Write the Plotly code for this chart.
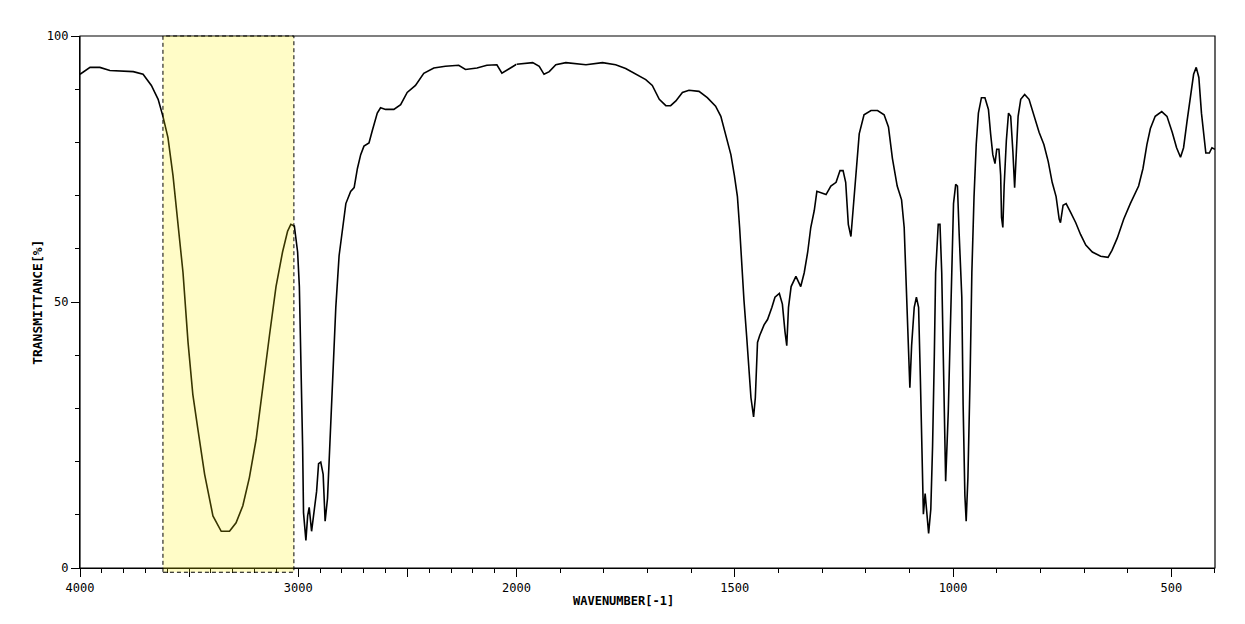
import numpy as np
import plotly.graph_objects as go

# IR spectrum (wavenumber in cm-1, transmittance in %)
WAVENUMBER = [
    4000, 3992, 3954, 3909, 3863, 3756, 3711, 3673, 3642, 3620, 3597, 3574, 3551, 3528, 3505,
    3483, 3460, 3429, 3391, 3353, 3315, 3285, 3254, 3224, 3193, 3163, 3132, 3102, 3072, 3049,
    3034, 3018, 3003, 2995, 2988, 2980, 2976, 2965, 2957, 2950, 2939, 2927, 2916, 2907, 2897,
    2886, 2877, 2866, 2855, 2843, 2828, 2813, 2798, 2782, 2760, 2744, 2729, 2714, 2699, 2676,
    2661, 2638, 2623, 2600, 2562, 2531, 2501, 2463, 2425, 2379, 2326, 2265, 2234, 2181, 2136,
    2090, 2067, 2037, 2000,
    1963, 1948, 1937, 1925, 1910, 1887, 1841, 1803, 1773, 1750, 1727, 1704, 1689, 1673, 1658,
    1647, 1635, 1620, 1605, 1582, 1563, 1544, 1532, 1521, 1509, 1501, 1494, 1489, 1484, 1479,
    1473, 1467, 1463, 1457, 1453, 1448, 1443, 1433, 1425, 1415, 1408, 1398, 1391, 1385, 1381,
    1377, 1371, 1360, 1349, 1341, 1333, 1326, 1318, 1312, 1299, 1291, 1280, 1268, 1259, 1252,
    1246, 1240, 1234, 1229, 1223, 1215, 1204, 1188, 1173, 1158, 1148, 1139, 1128, 1118, 1112,
    1107, 1103, 1099, 1095, 1089, 1084, 1079, 1075, 1072, 1068, 1064, 1060, 1056, 1051, 1047,
    1043, 1040, 1034, 1030, 1026, 1021, 1017, 1011, 1005, 999, 994, 990,
    986, 980, 977, 973, 970, 966, 961, 957, 952, 947, 942, 935, 927, 919, 914,
    909, 904, 900, 895, 891, 889, 886, 883, 878, 873, 868, 863, 859, 855, 851,
    845, 836, 826, 815, 803, 792, 782, 773, 764, 757, 754, 748, 741, 731, 719,
    708, 696, 681, 662, 645, 636, 624, 609, 594, 575, 565, 556, 548, 537, 522,
    510, 498, 488, 479, 472, 464, 456, 449, 443, 437, 431, 426, 421, 413, 407, 400,
]
TRANSMITTANCE = [
    92.8, 93.0, 94.1, 94.1, 93.5, 93.3, 92.8, 90.7, 88.1, 84.9, 80.9, 73.8, 64.6, 55.5, 42.4,
    32.6, 26.1, 17.6, 9.8, 6.9, 6.9, 8.5, 11.7, 17.0, 24.2, 33.3, 43.7, 52.9, 59.4, 63.3,
    64.6, 64.3, 59.4, 52.9, 41.1, 22.8, 10.4, 5.2, 9.8, 11.4, 6.9, 10.4, 14.4, 19.6, 19.9,
    17.6, 8.8, 13.1, 22.8, 35.9, 49.0, 58.7, 63.3, 68.5, 70.8, 71.5, 75.1, 77.7, 79.3, 79.9,
    82.2, 85.5, 86.5, 86.2, 86.2, 87.1, 89.4, 90.7, 93.0, 94.0, 94.3, 94.5, 93.7, 94.0, 94.5,
    94.6, 93.0, 93.7, 94.7,
    95.0, 94.3, 92.8, 93.3, 94.6, 95.0, 94.6, 95.0, 94.6, 93.9, 92.8, 91.8, 90.7, 88.1, 86.9,
    86.9, 87.8, 89.4, 89.8, 89.6, 88.4, 86.8, 84.9, 81.6, 77.7, 73.8, 69.8, 64.0, 56.8, 50.3,
    43.7, 36.6, 32.0, 28.4, 32.0, 42.4, 43.7, 45.7, 46.7, 49.0, 50.9, 51.6, 49.6, 44.4, 41.8,
    49.0, 52.9, 54.8, 52.9, 55.5, 59.4, 64.0, 67.2, 70.8, 70.5, 70.2, 71.8, 72.5, 74.7, 74.7,
    72.5, 64.6, 62.3, 67.2, 74.4, 81.6, 85.2, 86.0, 86.0, 85.2, 82.9, 77.0, 71.8, 69.2, 64.0,
    51.6, 43.7, 33.9, 41.8, 49.0, 50.9, 49.0, 35.9, 22.8, 10.1, 14.0, 9.8, 6.5, 11.1, 22.8,
    39.8, 55.5, 64.6, 64.6, 55.5, 35.9, 16.3, 29.4, 49.0, 68.5, 72.1, 71.8,
    62.7, 50.9, 30.7, 13.7, 8.8, 17.0, 35.9, 55.5, 69.8, 79.6, 85.5, 88.4, 88.4, 86.2, 81.6,
    77.7, 76.0, 78.7, 78.7, 73.8, 65.9, 64.0, 71.8, 80.3, 85.5, 84.9, 78.3, 71.5, 78.3, 84.9,
    88.1, 89.0, 88.1, 84.9, 81.9, 79.6, 76.4, 72.5, 69.8, 65.6, 64.9, 68.2, 68.5, 66.9, 64.9,
    62.7, 60.7, 59.4, 58.6, 58.4, 59.7, 62.0, 65.6, 68.5, 71.8, 75.1, 79.6, 82.6, 84.9, 85.8,
    84.9, 81.9, 79.0, 77.2, 79.0, 84.0, 88.9, 92.8, 94.1, 92.2, 85.5, 81.6, 78.0, 78.0, 79.0, 78.7,
]

HIGH_TICKS = [4000, 3500, 3000, 2500, 2000]
HIGH_LABELS = ["4000", "", "3000", "", "2000"]
LOW_TICKS = [1500, 1000, 500]
LOW_LABELS = ["1500", "1000", "500"]
Y_TICKS = [0, 50, 100]
Y_LABELS = ["0", "50", "100"]
BAND = [3620, 3020]  # highlighted O-H region

wn = np.array(WAVENUMBER)
tr = np.array(TRANSMITTANCE)
hi = wn >= 2000
lo = wn <= 2000

# 4000-2000 is drawn at half the scale of 2000-400
split = 1000 / 2600

FONT = "DejaVu Sans Mono"
line_style = dict(color="black", width=1.6)

fig = go.Figure()
fig.add_trace(go.Scatter(x=wn[hi], y=tr[hi], mode="lines", line=line_style,
                         xaxis="x", yaxis="y", showlegend=False))
fig.add_trace(go.Scatter(x=wn[lo], y=tr[lo], mode="lines", line=line_style,
                         xaxis="x2", yaxis="y", showlegend=False))

common_x = dict(showgrid=False, zeroline=False, showline=True, linecolor="black",
                linewidth=1.2, ticks="outside", ticklen=8, tickwidth=1, tickcolor="black",
                tickfont=dict(family=FONT, size=12, color="black"), anchor="y")

# the page body adds 8px, so margins are trimmed to keep the frame in place
fig.update_layout(
    width=1245, height=624,
    margin=dict(l=72, r=38, t=28, b=64),
    paper_bgcolor="white", plot_bgcolor="white",
    xaxis=dict(domain=[0, split], range=[4000, 2000], tickmode="array",
               tickvals=HIGH_TICKS, ticktext=HIGH_LABELS,
               minor=dict(tickmode="array",
                          tickvals=[w for w in range(3900, 2000, -100) if w % 500],
                          ticks="outside", ticklen=4, tickcolor="black"),
               **common_x),
    xaxis2=dict(domain=[split, 1], range=[2000, 400], tickmode="array",
                tickvals=LOW_TICKS, ticktext=LOW_LABELS,
                minor=dict(tickmode="array",
                           tickvals=[w for w in range(1900, 399, -100) if w % 500],
                           ticks="outside", ticklen=4, tickcolor="black"),
                **common_x),
    yaxis=dict(range=[0, 100], anchor="x", tickmode="array", tickvals=Y_TICKS,
               ticktext=Y_LABELS, showgrid=False, zeroline=False, showline=True,
               linecolor="black", linewidth=1.2, ticks="outside", ticklen=8,
               tickwidth=1, tickcolor="black",
               tickfont=dict(family=FONT, size=12, color="black"),
               minor=dict(tickmode="array", tickvals=[10, 20, 30, 40, 60, 70, 80, 90],
                          ticks="outside", ticklen=4, tickcolor="black")),
)

# frame around the plotting area
fig.add_shape(type="rect", xref="paper", yref="paper", x0=0, x1=1, y0=0, y1=1,
              line=dict(color="black", width=1.2), layer="above")

# highlighted band, drawn over the spectrum
fig.add_shape(type="rect", xref="x", yref="paper", x0=BAND[0], x1=BAND[1], y0=-0.008, y1=1,
              fillcolor="rgba(255,241,0,0.22)",
              line=dict(color="black", width=1, dash="4px,3px"), layer="above")

fig.add_annotation(text="WAVENUMBER[-1]", xref="paper", yref="paper", x=0.479, y=-0.062,
                   showarrow=False, xanchor="center", yanchor="middle",
                   font=dict(family=FONT, size=12, color="black", weight="bold"))
fig.add_annotation(text="TRANSMITTANCE[%]", xref="paper", yref="paper", x=-0.038, y=0.5,
                   textangle=-90, showarrow=False, xanchor="center", yanchor="middle",
                   font=dict(family=FONT, size=13, color="black", weight="bold"))

fig.write_html("out.html")
